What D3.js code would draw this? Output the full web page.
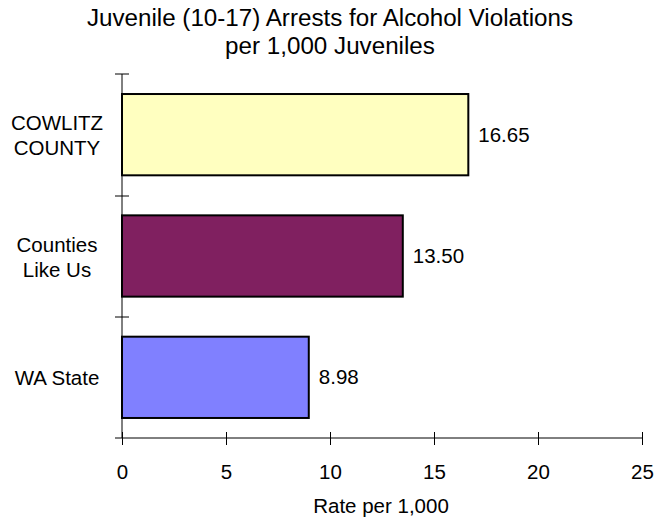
<!DOCTYPE html>
<html><head><meta charset="utf-8">
<script src="https://cdn.jsdelivr.net/npm/d3@7"></script>
<style>body{margin:0;background:#fff}text{font-family:"Liberation Sans",Arial,sans-serif;fill:#000}</style>
</head><body>
<svg id="c" width="657" height="519"></svg>
<script>
const categories = [["COWLITZ","COUNTY"],["Counties","Like Us"],["WA State"]];
const values = [16.65, 13.50, 8.98];
const colors = ["#FFFFC0", "#802060", "#8080FF"];
const xTicks = [0, 5, 10, 15, 20, 25];
const titleLines = ["Juvenile (10-17) Arrests for Alcohol Violations", "per 1,000 Juveniles"];
const xTitle = "Rate per 1,000";

const FS = 20.5;
const svg = d3.select("#c");
const x = d3.scaleLinear().domain([0, 25]).range([122, 642]);
const y = d3.scaleBand().domain(d3.range(values.length)).range([74, 438]).paddingInner(0.33).paddingOuter(0.165);

// title
svg.append("text").attr("text-anchor", "middle").attr("font-size", 24.2)
  .selectAll("tspan").data(titleLines).join("tspan").attr("x", 330).attr("y", (d,i)=> 26 + i*28).text(d=>d);

// bars
svg.selectAll("rect.bar").data(values).join("rect").attr("class","bar")
  .attr("x", x(0)).attr("y", (d,i)=>y(i)).attr("width", d=>x(d)-x(0)).attr("height", y.bandwidth())
  .attr("fill", (d,i)=>colors[i]).attr("stroke", "#000").attr("stroke-width", 2);

// value labels
svg.selectAll("text.val").data(values).join("text").attr("class","val")
  .attr("x", d=>x(d)+10).attr("y", (d,i)=>y(i)+y.bandwidth()/2+7).attr("font-size", FS)
  .text(d=>d.toFixed(2));

// x axis
const xa = svg.append("g").attr("transform", "translate(0,438)")
  .call(d3.axisBottom(x).tickValues(xTicks).tickSize(7).tickPadding(19).tickSizeOuter(0));
xa.select(".domain").attr("d", "M115,0H642").attr("stroke", "#000");
xa.selectAll(".tick line").attr("y1", -6).attr("y2", 7).attr("stroke", "#000");
xa.selectAll(".tick text").attr("font-size", FS).attr("font-family", "Liberation Sans, Arial, sans-serif").attr("fill","#000");

// y axis
const yEdges = [74, 196, 317];
svg.append("line").attr("x1", 122).attr("x2", 122).attr("y1", 74).attr("y2", 438).attr("stroke", "#000");
svg.selectAll("line.yt").data(yEdges).join("line").attr("class","yt")
  .attr("x1", 115).attr("x2", 129).attr("y1", d=>d).attr("y2", d=>d).attr("stroke", "#000");

// category labels
categories.forEach((lines, i) => {
  const cy = y(i) + y.bandwidth()/2;
  const t = svg.append("text").attr("text-anchor", "middle").attr("font-size", FS);
  const n = lines.length;
  lines.forEach((l, j) => {
    t.append("tspan").attr("x", 57).attr("y", cy + 8 + (j - (n-1)/2) * 25).text(l);
  });
});

// x title
svg.append("text").attr("x", 381).attr("y", 513).attr("text-anchor", "middle").attr("font-size", FS).text(xTitle);
</script>
</body></html>
